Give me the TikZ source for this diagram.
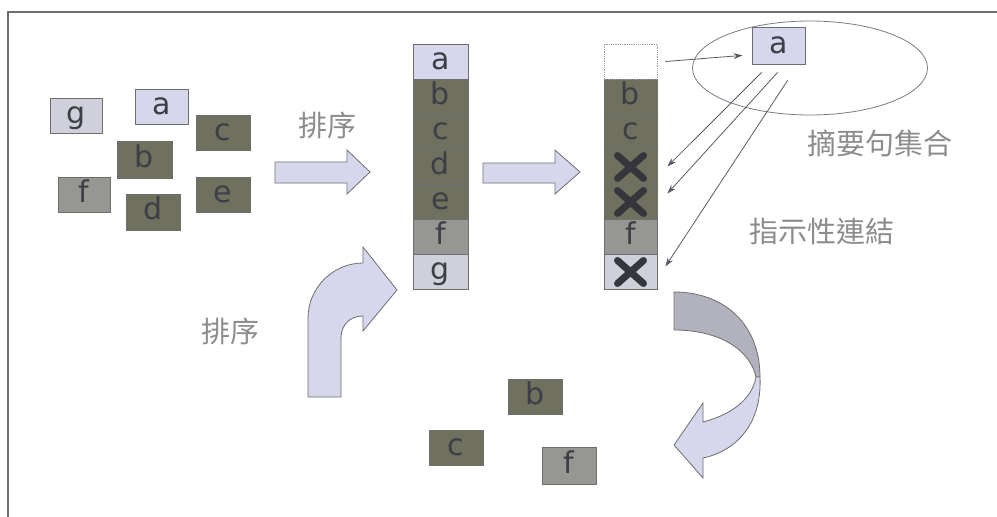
\documentclass[tikz,border=0pt]{standalone}
\usepackage{fontspec}
\setmainfont{DejaVu Sans}
\newfontfamily\cjk{Noto Sans CJK TC}
\usetikzlibrary{arrows.meta,calc}
\definecolor{lav}{RGB}{214,214,236}
\definecolor{dk}{RGB}{112,112,94}
\definecolor{md}{RGB}{150,150,146}
\definecolor{lg}{RGB}{208,208,218}
\definecolor{bord}{RGB}{110,110,110}
\definecolor{ltr}{RGB}{62,62,70}
\definecolor{cjkc}{RGB}{140,140,140}
\definecolor{arrc}{RGB}{90,90,100}
\definecolor{twist}{RGB}{178,178,190}
\begin{document}
\begin{tikzpicture}[x=1pt,y=-1pt,
  box/.style={draw=bord,line width=0.8pt,inner sep=0pt,minimum width=54pt,minimum height=35pt,
    font=\fontsize{30}{30}\selectfont,text height=21pt,text depth=6pt,text=ltr},
  cell/.style={box,minimum width=55pt},
  cell2/.style={box,minimum width=53pt},
  blockarrow/.style={fill=lav,draw=bord,line width=0.8pt},
  cjklabel/.style={font=\cjk\fontsize{29}{29}\selectfont,text=cjkc,inner sep=0pt},
  thinarrow/.style={draw=arrc,line width=0.8pt,-{Stealth[length=9pt,width=6pt]}},
  xmark/.style={draw=ltr!85!black,line width=7pt,line cap=round}]
\useasboundingbox (0,0) rectangle (997,517);
% frame
\draw[line width=2pt,bord] (8,517) -- (8,12) -- (997,12);

% scattered boxes
\node[box,fill=lg,minimum width=52pt] (g0) at (76,115.5) {g};
\node[box,fill=lav,minimum width=53pt] (a0) at (161.5,106.5) {a};
\node[box,fill=dk] (c0) at (223,132.5) {c};
\node[box,fill=dk,minimum width=55pt,minimum height=37pt] (b0) at (144.5,159.5) {b};
\node[box,fill=md,minimum width=52pt] (f0) at (84,194.5) {f};
\node[box,fill=dk,minimum height=36pt] (d0) at (153,212) {d};
\node[box,fill=dk] (e0) at (223,194.5) {e};

% label and arrow 1
\node[cjklabel] (sort1) at (327,125) {排序};
\draw[blockarrow] (275,162) -- (347,162) -- (347,150) -- (370,172) -- (347,194) -- (347,183) -- (275,183) -- cycle;

% column 1
\node[cell,fill=lav] (k1a) at (440.5,61.5) {a};
\node[cell,fill=dk] (k1b) at (440.5,96.5) {b};
\node[cell,fill=dk] (k1c) at (440.5,131.5) {c};
\node[cell,fill=dk] (k1d) at (440.5,166.5) {d};
\node[cell,fill=dk] (k1e) at (440.5,201.5) {e};
\node[cell,fill=md] (k1f) at (440.5,236.5) {f};
\node[cell,fill=lg] (k1g) at (440.5,271.5) {g};

% arrow 2
\draw[blockarrow] (483,163) -- (555,163) -- (555,150) -- (580,172) -- (555,194) -- (555,183) -- (483,183) -- cycle;

% column 2
\node[cell2,fill=dk] (k2b) at (630.5,96.5) {b};
\node[cell2,fill=dk] (k2c) at (630.5,131.5) {c};
\node[cell2,fill=dk] (k2d) at (630.5,166.5) {};
\node[cell2,fill=dk] (k2e) at (630.5,201.5) {};
\node[cell2,fill=md] (k2f) at (630.5,236.5) {f};
\node[cell2,fill=lg] (k2g) at (630.5,271.5) {};
\node[cell2,fill=white,draw=bord!70,densely dotted] (k2a) at (630.5,61.5) {};
\foreach \n in {k2d,k2e,k2g}{
  \draw[xmark] ($(\n.center)+(-13,-11)$) -- ($(\n.center)+(13,12)$);
  \draw[xmark] ($(\n.center)+(13,-11)$) -- ($(\n.center)+(-13,12)$);
}

% ellipse with summary sentence
\draw[draw=arrc!80,line width=0.8pt] (810,68) ellipse [x radius=117.5,y radius=47];
\node[box,fill=lav,minimum width=53pt,minimum height=37pt] (sa) at (778.5,45.5) {a};
\node[cjklabel] (setlbl) at (880,143) {摘要句集合};
\node[cjklabel] (linklbl) at (822,231) {指示性連結};

% thin arrows
\coordinate (p0) at ($(k2a.east)+(8,0)$);
\coordinate (q0) at ($(sa.south west)+(-9,-9)$);
\draw[thinarrow] (p0) -- (q0);
\coordinate (s1) at ($(sa.south west)+(10,8)$);
\coordinate (s2) at ($(sa.south west)+(26,8)$);
\coordinate (s3) at ($(sa.south west)+(36,16)$);
\coordinate (t1) at ($(k2d.east)+(10,0)$);
\coordinate (t2) at ($(k2e.east)+(10,-8)$);
\coordinate (t3) at ($(k2g.east)+(8,-5)$);
\draw[thinarrow] (s1) -- (t1);
\draw[thinarrow] (s2) -- (t2);
\draw[thinarrow] (s3) -- (t3);

% curved arrow on the left
\node[cjklabel] (sort2) at (230,331) {排序};
\draw[blockarrow] (308,397) -- (308,318) .. controls (308,288) and (333,263) .. (363,263)
  -- (363,247) -- (397,290) -- (363,331) -- (363,316)
  .. controls (350,316) and (341,325) .. (341,338) -- (341,397) -- cycle;

% twisted U-turn arrow on the right
\draw[fill=twist,draw=bord,line width=0.8pt] (674,292) .. controls (725,292) and (760,325) .. (760,377)
  -- (756,377) .. controls (750,350) and (720,330) .. (674,330) -- cycle;
\draw[blockarrow] (760,377) .. controls (762,420) and (740,450) .. (703,458) -- (703,478) -- (674,445)
  -- (703,403) -- (703,422) .. controls (730,415) and (752,400) .. (756,377) -- cycle;

% remaining boxes
\node[box,fill=dk] (b1) at (535,396.5) {b};
\node[box,fill=dk] (c1) at (456,447.5) {c};
\node[box,fill=md,minimum height=37pt] (f1) at (569,465.5) {f};
\end{tikzpicture}
\end{document}
